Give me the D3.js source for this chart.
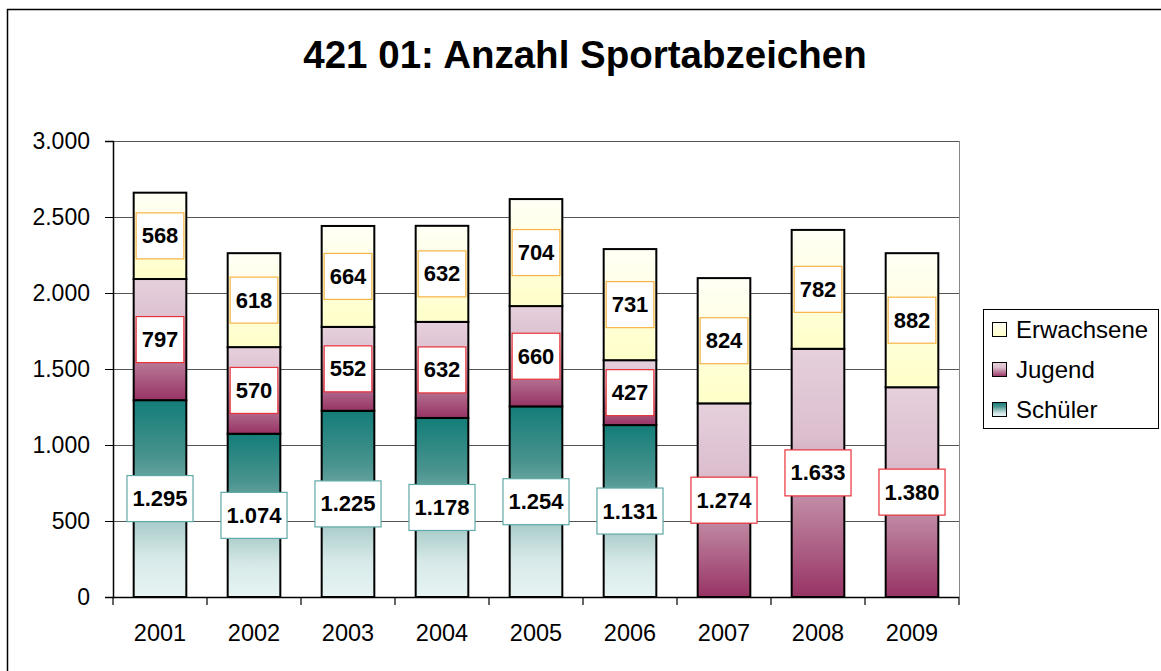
<!DOCTYPE html>
<html><head><meta charset="utf-8">
<script src="https://cdn.jsdelivr.net/npm/d3@7"></script>
<style>html,body{margin:0;padding:0;background:#fff;overflow:hidden}svg{display:block}text{font-family:"Liberation Sans",Arial,sans-serif}</style>
</head><body>
<script>
const years = ["2001","2002","2003","2004","2005","2006","2007","2008","2009"];
const schueler = [1295,1074,1225,1178,1254,1131,0,0,0];
const jugend = [797,570,552,632,660,427,1274,1633,1380];
const erwachsene = [568,618,664,632,704,731,824,782,882];
const yTicks = [0,500,1000,1500,2000,2500,3000];
const seriesNames = ["Schüler","Jugend","Erwachsene"];
const title = "421 01: Anzahl Sportabzeichen";

const W = 1161, H = 671;
const svg = d3.select("body").append("svg").attr("width", W).attr("height", H);
const defs = svg.append("defs");
const grads = {
  "Schüler": [[0,"#137d78"],[0.3,"#4b948f"],[0.6,"#a5c9c7"],[0.8,"#d6e9e8"],[1,"#e7f4f4"]],
  "Jugend": [[0,"#e6d0dc"],[0.35,"#dcbfcf"],[0.7,"#b77694"],[1,"#973365"]],
  "Erwachsene": [[0,"#fffff6"],[1,"#ffffc8"]]
};
const gid = {"Schüler":"gS","Jugend":"gJ","Erwachsene":"gE"};
for (const k of seriesNames) {
  const g = defs.append("linearGradient").attr("id", gid[k]).attr("x1",0).attr("y1",0).attr("x2",0).attr("y2",1);
  grads[k].forEach(s => g.append("stop").attr("offset", s[0]).attr("stop-color", s[1]));
}
const labelStroke = {"Schüler":"#5fa9a6","Jugend":"#e8323a","Erwachsene":"#f7b347"};

// frame
svg.append("rect").attr("x",7.5).attr("y",9.5).attr("width",1300).attr("height",800)
  .attr("fill","none").attr("stroke","#000").attr("stroke-width",1.5);

svg.append("text").attr("x",585).attr("y",68).attr("text-anchor","middle")
  .attr("font-size",38.5).attr("font-weight","bold").text(title);

const x = d3.scaleBand().domain(years).range([113,959]).paddingInner(0.44).paddingOuter(0.22);
const y = d3.scaleLinear().domain([0,3000]).range([597,141]);
const loc = d3.formatLocale({decimal:",",thousands:".",grouping:[3],currency:["","€"]});
const fmt = loc.format(",d");

// gridlines
svg.append("g").selectAll("line").data(yTicks.filter(d=>d>0)).join("line")
  .attr("x1",113).attr("x2",959).attr("y1",d=>Math.round(y(d))+0.5).attr("y2",d=>Math.round(y(d))+0.5)
  .attr("stroke","#555").attr("stroke-width",1);
svg.append("line").attr("x1",959.5).attr("x2",959.5).attr("y1",y(3000)).attr("y2",y(0)).attr("stroke","#888");

// y axis
const ya = svg.append("g").attr("transform","translate(113,0)")
  .call(d3.axisLeft(y).tickValues(yTicks).tickSize(8).tickPadding(15).tickFormat(fmt));
ya.select(".domain").attr("stroke","#000").attr("stroke-width",1.5);
ya.selectAll(".tick line").attr("stroke","#000");
ya.selectAll("text").attr("font-size",23).attr("fill","#000").attr("font-family","Liberation Sans, Arial");

// stacked data
const rows = years.map((yr,i)=>({year:yr,"Schüler":schueler[i],"Jugend":jugend[i],"Erwachsene":erwachsene[i]}));
const stack = d3.stack().keys(seriesNames)(rows);

const barsG = svg.append("g");
stack.forEach(layer=>{
  const k = layer.key;
  barsG.selectAll(null).data(layer.filter(d=>d[1]-d[0]>0)).join("rect")
    .attr("x",d=>x(d.data.year)).attr("width",x.bandwidth())
    .attr("y",d=>y(d[1])).attr("height",d=>y(d[0])-y(d[1]))
    .attr("fill",`url(#${gid[k]})`).attr("stroke","#000").attr("stroke-width",2);
});

// x axis
svg.append("line").attr("x1",113).attr("x2",959).attr("y1",597.5).attr("y2",597.5).attr("stroke","#000").attr("stroke-width",1.5);
const gap = (x.step()-x.bandwidth())/2;
const bounds = years.map(d=>x(d)-gap).concat([x(years[years.length-1])+x.bandwidth()+gap]);
svg.append("g").selectAll("line").data(bounds).join("line")
  .attr("x1",d=>d).attr("x2",d=>d).attr("y1",597).attr("y2",605).attr("stroke","#000").attr("stroke-width",1.2);
svg.append("g").selectAll("text").data(years).join("text")
  .attr("x",d=>x(d)+x.bandwidth()/2).attr("y",641).attr("text-anchor","middle")
  .attr("font-size",23.5).text(d=>d);

// labels
const labG = svg.append("g");
stack.forEach(layer=>{
  const k = layer.key;
  layer.filter(d=>d[1]-d[0]>0).forEach(d=>{
    const cx = x(d.data.year)+x.bandwidth()/2;
    const cy = (y(d[0])+y(d[1]))/2;
    const g = labG.append("g");
    const r = g.append("rect");
    const t = g.append("text").attr("x",cx).attr("y",cy+7.5).attr("text-anchor","middle")
      .attr("font-size",22).attr("font-weight","bold").text(fmt(d[1]-d[0]));
    const w = t.node().getComputedTextLength()+11;
    r.attr("x",cx-w/2).attr("y",cy-23).attr("width",w).attr("height",46)
      .attr("fill","#fff").attr("stroke",labelStroke[k]).attr("stroke-width",1.2);
  });
});

// legend
const lg = svg.append("g");
lg.append("rect").attr("x",983.5).attr("y",309.5).attr("width",175).attr("height",119)
  .attr("fill","#fff").attr("stroke","#000").attr("stroke-width",1);
const legOrder = ["Erwachsene","Jugend","Schüler"];
legOrder.forEach((k,i)=>{
  const cy = 329.5 + i*40;
  lg.append("rect").attr("x",992.5).attr("y",cy-7).attr("width",14).attr("height",14)
    .attr("fill",`url(#${gid[k]})`).attr("stroke","#000").attr("stroke-width",1);
  lg.append("text").attr("x",1016).attr("y",cy+8).attr("font-size",24).text(k);
});
</script>
</body></html>
